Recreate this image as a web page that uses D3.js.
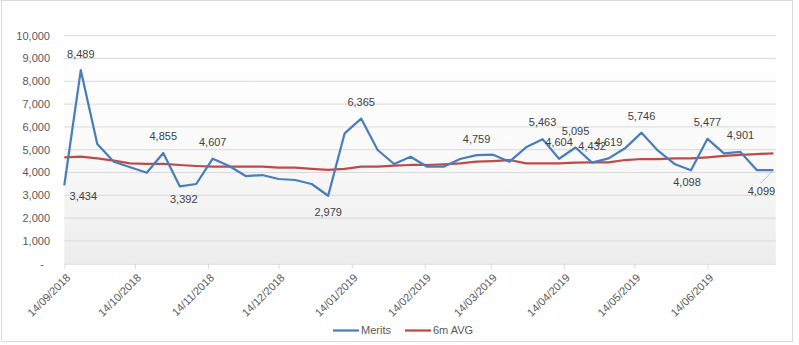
<!DOCTYPE html>
<html><head><meta charset="utf-8">
<script src="https://cdn.jsdelivr.net/npm/d3@7"></script>
<style>
html,body{margin:0;padding:0;background:#fff;}
svg{display:block;font-family:"Liberation Sans","DejaVu Sans",sans-serif;}
</style></head>
<body>
<svg id="chart" width="799" height="345"></svg>
<script>
const dates = ["2018-09-14","2018-09-21","2018-09-28","2018-10-05","2018-10-12","2018-10-19","2018-10-26",
"2018-11-02","2018-11-09","2018-11-16","2018-11-23","2018-11-30","2018-12-07","2018-12-14","2018-12-21","2018-12-28",
"2019-01-04","2019-01-11","2019-01-18","2019-01-25","2019-02-01","2019-02-08","2019-02-15","2019-02-22",
"2019-03-01","2019-03-08","2019-03-15","2019-03-22","2019-03-29","2019-04-05","2019-04-12","2019-04-19","2019-04-26",
"2019-05-03","2019-05-10","2019-05-17","2019-05-24","2019-05-31","2019-06-07","2019-06-14","2019-06-21","2019-06-28",
"2019-07-05","2019-07-12"];
const merits = [3434,8489,5250,4474,4228,3991,4855,3392,3496,4607,4285,3846,3890,3715,3671,3496,
2979,5719,6365,4987,4373,4693,4254,4254,4592,4759,4780,4474,5105,5463,4604,5095,4432,4619,5061,
5746,4956,4373,4098,5477,4842,4901,4100,4099];
const avg6m = [4667,4693,4623,4518,4404,4373,4373,4329,4285,4254,4254,4254,4254,4211,4211,4154,
4110,4154,4254,4254,4298,4329,4329,4360,4404,4474,4504,4548,4404,4404,4404,4430,4447,4447,4548,
4592,4592,4623,4623,4667,4724,4768,4811,4842];
const xTickDates = ["2018-09-14","2018-10-14","2018-11-14","2018-12-14","2019-01-14","2019-02-14",
"2019-03-14","2019-04-14","2019-05-14","2019-06-14"];
const yTicks = [0,1000,2000,3000,4000,5000,6000,7000,8000,9000,10000];
const labelledPoints = [0,1,6,7,9,16,18,25,29,30,31,32,33,35,38,39,41,43];
const labelBelow = [0,7,16,38,43];
const seriesNames = ["Merits","6m AVG"];

const parse = d3.utcParse("%Y-%m-%d");
const svg = d3.select("#chart");
const L = 64.3, R = 775.8, T = 35.7, B = 263.7;

const x = d3.scaleUtc().domain([parse("2018-09-14"), parse("2019-07-13")]).range([L, R]);
const y = d3.scaleLinear().domain([0, 10000]).range([B, T]);

// chart border
svg.append("rect").attr("x",1.5).attr("y",0.5).attr("width",791).attr("height",341)
  .attr("fill","#fff").attr("stroke","#d9d9d9");

// plot background gradient
const defs = svg.append("defs");
const grad = defs.append("linearGradient").attr("id","bg").attr("x1",0).attr("y1",0).attr("x2",0).attr("y2",1);
grad.append("stop").attr("offset","0%").attr("stop-color","#ffffff");
grad.append("stop").attr("offset","45%").attr("stop-color","#fbfbfb");
grad.append("stop").attr("offset","100%").attr("stop-color","#ececec");
svg.append("rect").attr("x",L).attr("y",T).attr("width",R-L).attr("height",B-T).attr("fill","url(#bg)");

// gridlines
svg.append("g").selectAll("line").data(yTicks.filter(d=>d>0)).join("line")
  .attr("x1",L).attr("x2",R).attr("y1",d=>y(d)).attr("y2",d=>y(d))
  .attr("stroke","#d9d9d9").attr("stroke-width",1);

// y axis labels
const fmt = d3.format(",");
svg.append("g").selectAll("text").data(yTicks).join("text")
  .attr("x",d=> d===0 ? 44 : 50).attr("y",d=>y(d)).attr("dy","0.35em")
  .attr("text-anchor","end").attr("font-size",11).attr("fill","#595959")
  .text(d=> d===0 ? "-" : fmt(d));

// x axis
const xAxis = d3.axisBottom(x).tickValues(xTickDates.map(parse)).tickSize(5).tickFormat(()=> "");
const gx = svg.append("g").attr("transform",`translate(0,${B})`).call(xAxis);
gx.select(".domain").attr("stroke","#d9d9d9").attr("d",`M${L},0.5H${R}`);
gx.selectAll(".tick line").attr("stroke","#d9d9d9");
const tfmt = d3.utcFormat("%d/%m/%Y");
svg.append("g").selectAll("text").data(xTickDates).join("text")
  .attr("transform",d=>`translate(${x(parse(d))+4},${B+12}) rotate(-45)`)
  .attr("text-anchor","end").attr("dy","0.35em").attr("font-size",11).attr("fill","#595959")
  .text(d=>tfmt(parse(d)));

// lines
const pts = dates.map(parse);
const lineGen = arr => d3.line().x((d,i)=>x(pts[i])).y(d=>y(d))(arr);
svg.append("path").attr("d",lineGen(avg6m)).attr("fill","none")
  .attr("stroke","#be4b48").attr("stroke-width",2.25).attr("stroke-linejoin","round");
svg.append("path").attr("d",lineGen(merits)).attr("fill","none")
  .attr("stroke","#4a7ebb").attr("stroke-width",2.25).attr("stroke-linejoin","round");

// data labels
const dxMap = {0:19, 7:4, 38:-4, 43:-12};
const dyBelow = {0:11, 7:13, 16:16.5, 38:12, 43:21};
const lbl = svg.append("g");
labelledPoints.forEach(i=>{
  const px = x(pts[i]), py = y(merits[i]);
  const below = labelBelow.includes(i);
  const lx = px + (dxMap[i]||0);
  const ly = below ? py + dyBelow[i] : py - 16.5;
  if (i===43) {
    lbl.append("line").attr("x1",lx-1).attr("y1",ly-8).attr("x2",px).attr("y2",py)
      .attr("stroke","#a6a6a6").attr("stroke-width",0.75);
  }
  lbl.append("text").attr("x",lx).attr("y",ly).attr("dy","0.35em")
    .attr("text-anchor","middle").attr("font-size",11).attr("fill","#404040")
    .text(fmt(merits[i]));
});

// legend
const colors = ["#4a7ebb","#be4b48"];
const legX = [333, 405];
const lg = svg.append("g");
seriesNames.forEach((n,k)=>{
  lg.append("line").attr("x1",legX[k]).attr("x2",legX[k]+26).attr("y1",330.5).attr("y2",330.5)
    .attr("stroke",colors[k]).attr("stroke-width",2.25);
  lg.append("text").attr("x",legX[k]+28).attr("y",330.5).attr("dy","0.35em")
    .attr("font-size",11).attr("fill","#595959").text(n);
});
</script>
</body></html>
